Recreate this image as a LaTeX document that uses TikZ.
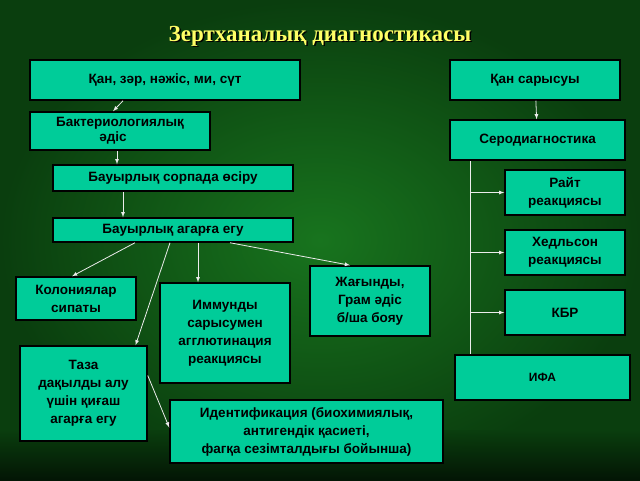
\documentclass[tikz,border=0pt]{standalone}
\usepackage{fontspec}
\setmainfont{Liberation Sans}
\newfontfamily\titlefont{Liberation Serif}
\usetikzlibrary{shadows}

\definecolor{boxfill}{RGB}{0,204,153}
\definecolor{bgdark}{RGB}{10,62,14}
\definecolor{bgmid}{RGB}{24,116,30}
\definecolor{titleyel}{RGB}{255,255,102}

\tikzset{
  box/.style = {draw = black, line width = 1.5pt, fill = boxfill, inner sep = 0pt,
                font = \bfseries\fontsize{13.5}{18}\selectfont, align = center},
  link/.style = {draw = white!85!gray, line width = 0.8pt, -latex}
}

\begin{document}
\begin{tikzpicture}[x = 1pt, y = -1pt]
        \useasboundingbox (0,0) rectangle (640,480);
        \shade[inner color = bgmid, outer color = bgdark] (0,0) rectangle (640,480);
        \shade[top color = bgdark, bottom color = black!80!bgdark, opacity = 0.8] (0,430) rectangle (640,480);

        % title
        \node[text = black, font = \titlefont\bfseries\fontsize{23}{26}\selectfont] at (321.5,37.5) {Зертханалық диагностикасы};
        \node (title) [text = titleyel, font = \titlefont\bfseries\fontsize{23}{26}\selectfont] at (320,36) {Зертханалық диагностикасы};

        % left branch
        \node (blood)  [box, minimum width = 270, minimum height = 40] at (165,80) {Қан, зәр, нәжіс, ми, сүт};
        \node (bact)   [box, minimum width = 180, minimum height = 38, align = left, font = \bfseries\fontsize{13.5}{15}\selectfont] at (120,131) {Бактериологиялық\\ \hspace*{3.2em}әдіс};
        \node (broth)  [box, minimum width = 240, minimum height = 26] at (173,178) {Бауырлық сорпада өсіру};
        \node (agar)   [box, minimum width = 240, minimum height = 24] at (173,230) {Бауырлық агарға егу};
        \node (colony) [box, minimum width = 120, minimum height = 43] at (76,298.5) {Колониялар\\сипаты};
        \node (immune) [box, minimum width = 130, minimum height = 100] at (225,333) {Иммунды\\сарысумен\\агглютинация\\реакциясы};
        \node (smear)  [box, minimum width = 120, minimum height = 70] at (370,301) {Жағынды,\\Грам әдіс\\б/ша бояу};
        \node (pure)   [box, minimum width = 127, minimum height = 95] at (83.5,393.5) {Таза\\дақылды алу\\үшін қиғаш\\агарға егу};
        \node (ident)  [box, minimum width = 273, minimum height = 63] at (306.5,431.5) {Идентификация (биохимиялық,\\антигендік қасиеті,\\ фагқа сезімталдығы бойынша)};

        % right branch
        \node (serum)  [box, minimum width = 170, minimum height = 40] at (535,80) {Қан сарысуы};
        \node (sero)   [box, minimum width = 175, minimum height = 40] at (537.5,140) {Серодиагностика};
        \node (wright) [box, minimum width = 120, minimum height = 45] at (565,192.5) {Райт\\реакциясы};
        \node (heddl)  [box, minimum width = 120, minimum height = 45] at (565,252.5) {Хедльсон\\реакциясы};
        \node (cfr)    [box, minimum width = 120, minimum height = 45] at (565,312.5) {КБР};
        \node (ifa)    [box, minimum width = 175, minimum height = 45, font = \bfseries\fontsize{12}{14}\selectfont] at (542.5,377.5) {ИФА};

        % links
        \draw[link] ([xshift = -42]blood.south) -- ([xshift = -7]bact.north);
        \draw[link] ([xshift = -3]bact.south) -- ([xshift = -56]broth.north);
        \draw[link] ([xshift = -50]broth.south) -- ([xshift = -50]agar.north);
        \draw[link] ([xshift = -38]agar.south) -- ([xshift = -4]colony.north);
        \draw[link] ([xshift = -3]agar.south) -- ([xshift = 52]pure.north);
        \draw[link] ([xshift = 25]agar.south) -- ([xshift = -27]immune.north);
        \draw[link] ([xshift = 57]agar.south) -- ([xshift = -20]smear.north);
        \draw[link] ([yshift = 18]pure.east) -- ([yshift = 4]ident.west);
        \draw[link] (serum) -- (sero);

        \coordinate (trunk) at ([xshift = -67]sero.south);
        \draw[draw = white!85!gray, line width = 0.8pt] (trunk) -- (trunk |- ifa.north);
        \foreach \target in {wright, heddl, cfr}
          \draw[link] (trunk |- \target.west) -- (\target.west);
\end{tikzpicture}
\end{document}
